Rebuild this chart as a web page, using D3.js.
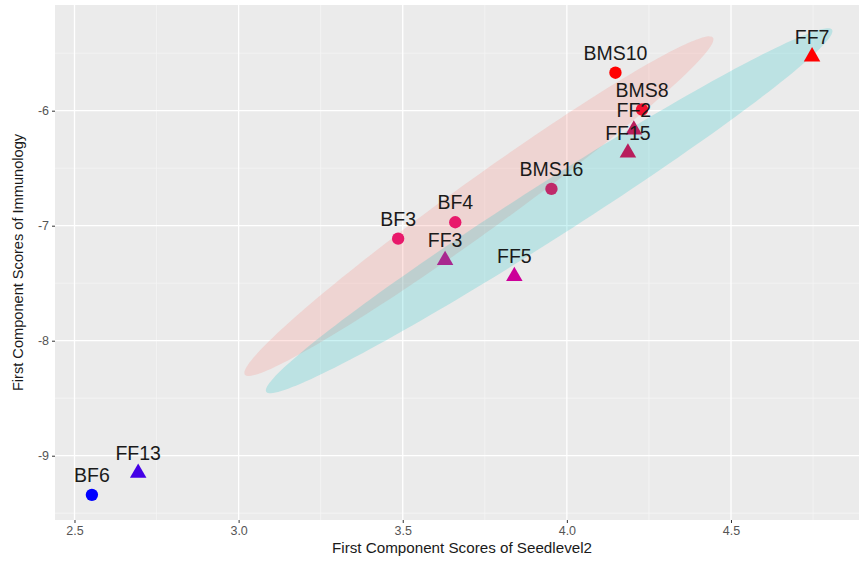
<!DOCTYPE html>
<html>
<head>
<meta charset="utf-8">
<script src="https://cdn.jsdelivr.net/npm/d3@7"></script>
<style>
  html, body { margin: 0; padding: 0; background: #ffffff; }
  svg { display: block; font-family: "Liberation Sans", Arial, Helvetica, sans-serif; }
</style>
</head>
<body>
<svg id="chart" width="861" height="562"></svg>
<script>
// ---- data ----
const labels   = ["BF6", "FF13", "BF3", "BF4", "FF3", "FF5", "BMS16", "BMS10", "BMS8", "FF2", "FF15", "FF7"];
const seedX    = [2.553, 2.694, 3.486, 3.660, 3.629, 3.840, 3.953, 4.148, 4.229, 4.204, 4.186, 4.747];
const immunoY  = [-9.34, -9.15, -7.113, -6.97, -7.30, -7.44, -6.68, -5.67, -5.99, -6.165, -6.365, -5.53];
const shapes   = ["circle", "triangle", "circle", "circle", "triangle", "triangle", "circle", "circle", "circle", "triangle", "triangle", "triangle"];
const colours  = ["#0000ff", "#4400e6", "#e8196b", "#e8196b", "#a8288f", "#cc0099", "#bf2a6a", "#ff0000", "#f2102e", "#b81e5c", "#b81e5c", "#ff0000"];

// confidence ellipses (centre, half major axis vector, half minor axis vector, in data units)
const ellipseGroups  = ["B", "F"];
const ellipseCenters = [[3.732, -6.830], [3.946, -6.870]];
const ellipseMajor   = [[0.713, 1.465], [0.862, 1.574]];
const ellipseMinor   = [[0.046, -0.183], [0.044, -0.198]];
const ellipseFills   = ["#f8766d", "#00bfc4"];

const xDomain = [2.4406, 4.890];
const yDomain = [-9.559, -5.081];
const xTicks = [2.5, 3.0, 3.5, 4.0, 4.5];
const xTickLabels = ["2.5", "3.0", "3.5", "4.0", "4.5"];
const xMinor = [2.75, 3.25, 3.75, 4.25, 4.75];
const yTicks = [-9, -8, -7, -6];
const yTickLabels = ["-9", "-8", "-7", "-6"];
const yMinor = [-9.5, -8.5, -7.5, -6.5, -5.5];

// ---- layout ----
const svg = d3.select("#chart");
const panel = { left: 55, top: 5, right: 859, bottom: 520 };

const x = d3.scaleLinear().domain(xDomain).range([panel.left, panel.right]);
const y = d3.scaleLinear().domain(yDomain).range([panel.bottom, panel.top]);

// panel background
svg.append("rect")
  .attr("x", panel.left).attr("y", panel.top)
  .attr("width", panel.right - panel.left)
  .attr("height", panel.bottom - panel.top)
  .attr("fill", "#ebebeb");

const grid = svg.append("g");
grid.selectAll("line.xminor").data(xMinor).join("line")
  .attr("x1", d => x(d)).attr("x2", d => x(d))
  .attr("y1", panel.top).attr("y2", panel.bottom)
  .attr("stroke", "#f7f7f7").attr("stroke-width", 0.7);
grid.selectAll("line.yminor").data(yMinor).join("line")
  .attr("y1", d => y(d)).attr("y2", d => y(d))
  .attr("x1", panel.left).attr("x2", panel.right)
  .attr("stroke", "#f7f7f7").attr("stroke-width", 0.7);
grid.selectAll("line.xmajor").data(xTicks).join("line")
  .attr("x1", d => x(d)).attr("x2", d => x(d))
  .attr("y1", panel.top).attr("y2", panel.bottom)
  .attr("stroke", "#ffffff").attr("stroke-width", 1.3);
grid.selectAll("line.ymajor").data(yTicks).join("line")
  .attr("y1", d => y(d)).attr("y2", d => y(d))
  .attr("x1", panel.left).attr("x2", panel.right)
  .attr("stroke", "#ffffff").attr("stroke-width", 1.3);

// ellipses
const ellipseLine = d3.line().curve(d3.curveLinearClosed);
const ellipseData = ellipseGroups.map((g, i) => {
  const pts = d3.range(0, 2 * Math.PI, Math.PI / 90).map(t => {
    const c = ellipseCenters[i], a = ellipseMajor[i], b = ellipseMinor[i];
    const dx = c[0] + Math.cos(t) * a[0] + Math.sin(t) * b[0];
    const dy = c[1] + Math.cos(t) * a[1] + Math.sin(t) * b[1];
    return [x(dx), y(dy)];
  });
  return { group: g, pts, fill: ellipseFills[i] };
});
svg.append("g").selectAll("path").data(ellipseData).join("path")
  .attr("d", d => ellipseLine(d.pts))
  .attr("fill", d => d.fill)
  .attr("fill-opacity", 0.2);

// points
const points = labels.map((l, i) => ({ label: l, x: seedX[i], y: immunoY[i], shape: shapes[i], colour: colours[i] }));
const sym = d3.symbol().type(d => d.shape === "triangle" ? d3.symbolTriangle : d3.symbolCircle)
  .size(d => d.shape === "triangle" ? 118 : 120);
svg.append("g").selectAll("path").data(points).join("path")
  .attr("transform", d => `translate(${x(d.x)},${y(d.y)})`)
  .attr("d", sym)
  .attr("fill", d => d.colour);

// point labels
svg.append("g").selectAll("text").data(points).join("text")
  .attr("x", d => x(d.x))
  .attr("y", d => y(d.y) - 13)
  .attr("text-anchor", "middle")
  .attr("font-size", 19.5)
  .attr("fill", "#1a1a1a")
  .text(d => d.label);

// axes
const xAxis = d3.axisBottom(x).tickValues(xTicks)
  .tickFormat((d, i) => xTickLabels[i]).tickSize(3).tickPadding(3);
const gx = svg.append("g").attr("transform", `translate(0,${panel.bottom})`).call(xAxis);
gx.select(".domain").remove();
gx.selectAll(".tick line").attr("stroke", "#333333");
gx.selectAll(".tick text").attr("fill", "#555555").attr("font-size", 12.5)
  .attr("font-family", "\"Liberation Sans\", Arial, sans-serif");

const yAxis = d3.axisLeft(y).tickValues(yTicks)
  .tickFormat((d, i) => yTickLabels[i]).tickSize(3).tickPadding(3);
const gy = svg.append("g").attr("transform", `translate(${panel.left},0)`).call(yAxis);
gy.select(".domain").remove();
gy.selectAll(".tick line").attr("stroke", "#333333");
gy.selectAll(".tick text").attr("fill", "#555555").attr("font-size", 12.5)
  .attr("font-family", "\"Liberation Sans\", Arial, sans-serif");

// axis titles
svg.append("text")
  .attr("x", 462)
  .attr("y", 553)
  .attr("text-anchor", "middle")
  .attr("font-size", 15.2)
  .attr("fill", "#1a1a1a")
  .text("First Component Scores of Seedlevel2");

svg.append("text")
  .attr("transform", `translate(23,${(panel.top + panel.bottom) / 2}) rotate(-90)`)
  .attr("text-anchor", "middle")
  .attr("font-size", 14.6)
  .attr("fill", "#1a1a1a")
  .text("First Component Scores of Immunology");
</script>
</body>
</html>
